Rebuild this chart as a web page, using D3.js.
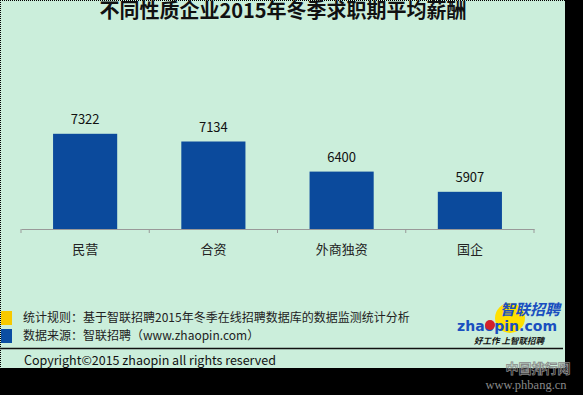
<!DOCTYPE html>
<html>
<head>
<meta charset="utf-8">
<script src="https://cdn.jsdelivr.net/npm/d3@7"></script>
<style>
  body { margin: 0; background: #000; }
  svg { display: block; }
  text { font-family: "Noto Sans CJK SC", "Noto Sans", sans-serif; }
</style>
</head>
<body>
<svg width="583" height="395"></svg>
<script>
// data
var categories = ["民营", "合资", "外商独资", "国企"];
var salaries = [7322, 7134, 6400, 5907];
var legendItems = [
  "统计规则：基于智联招聘2015年冬季在线招聘数据库的数据监测统计分析",
  "数据来源：智联招聘（www.zhaopin.com）"
];
var legendColors = ["#f7c900", "#0b4ea2"];

var svg = d3.select("svg");

// mint panel
svg.append("rect").attr("x", 0).attr("y", 0).attr("width", 565).attr("height", 368)
  .attr("fill", "#cbeedb");
svg.append("line").attr("x1", 0.5).attr("y1", 0).attr("x2", 0.5).attr("y2", 368)
  .attr("stroke", "#000").attr("stroke-dasharray", "1,1");
svg.append("line").attr("x1", 0).attr("y1", 0.5).attr("x2", 565).attr("y2", 0.5)
  .attr("stroke", "#000").attr("stroke-dasharray", "1,1");

// title
svg.append("text").attr("x", 283).attr("y", 18).attr("text-anchor", "middle")
  .attr("font-size", 20).attr("font-weight", "bold").attr("fill", "#111")
  .text("不同性质企业2015年冬季求职期平均薪酬");

var x = d3.scaleBand().domain(categories).range([21, 534])
  .paddingInner(0.5).paddingOuter(0.25);
var y = d3.scaleLinear().domain([5000, 8000]).range([229, 106]);

svg.selectAll(".bar").data(salaries).enter().append("rect")
  .attr("class", "bar")
  .attr("x", function(d, i) { return x(categories[i]); })
  .attr("y", function(d) { return y(d); })
  .attr("width", x.bandwidth())
  .attr("height", function(d) { return y(5000) - y(d); })
  .attr("fill", "#0b4a9c");

svg.selectAll(".val").data(salaries).enter().append("text")
  .attr("class", "val")
  .attr("x", function(d, i) { return x(categories[i]) + x.bandwidth() / 2; })
  .attr("y", function(d) { return y(d) - 10; })
  .attr("text-anchor", "middle").attr("font-size", 13).attr("fill", "#111")
  .text(function(d) { return d; });

// category axis
var axis = svg.append("g").attr("transform", "translate(0,229)")
  .call(d3.axisBottom(x).tickSize(0).tickPadding(16));
axis.select(".domain").attr("stroke", "#999");
axis.selectAll("text").attr("font-size", 13).attr("fill", "#222")
  .style("font-family", "'Noto Sans CJK SC', sans-serif");
var bounds = d3.range(categories.length + 1).map(function(i) { return 21 + i * x.step(); });
axis.selectAll(".bound").data(bounds).enter().append("line")
  .attr("x1", function(d) { return d; }).attr("x2", function(d) { return d; })
  .attr("y1", 0).attr("y2", 4).attr("stroke", "#999");

// legend
var leg = svg.selectAll(".leg").data(legendItems).enter().append("g")
  .attr("transform", function(d, i) { return "translate(0," + (311 + i * 18) + ")"; });
leg.append("rect").attr("x", 1).attr("y", 0).attr("width", 11).attr("height", 14)
  .attr("fill", function(d, i) { return legendColors[i]; });
leg.append("text").attr("x", 23).attr("y", 11).attr("font-size", 12).attr("fill", "#222")
  .text(function(d) { return d; });

svg.append("line").attr("x1", 0).attr("y1", 348.5).attr("x2", 563).attr("y2", 348.5)
  .attr("stroke", "#111").attr("stroke-width", 1.5);
svg.append("text").attr("x", 24).attr("y", 365).attr("font-size", 12.5).attr("fill", "#111")
  .text("Copyright©2015 zhaopin all rights reserved");

// logo
var logo = svg.append("g");
logo.append("circle").attr("cx", 510).attr("cy", 318).attr("r", 15).attr("fill", "#ffe000");
logo.append("text").attr("x", 560).attr("y", 315).attr("text-anchor", "end")
  .attr("font-size", 15).attr("font-weight", "bold").attr("font-style", "italic")
  .attr("fill", "#1a4fc0").text("智联招聘");
logo.append("text").attr("x", 557).attr("y", 331).attr("text-anchor", "end")
  .attr("font-size", 14).attr("font-weight", "bold").attr("fill", "#1a4fc0")
  .style("font-family", "'DejaVu Sans', sans-serif").attr("textLength", 100)
  .text("zhaopin.com");
logo.append("circle").attr("cx", 490).attr("cy", 325).attr("r", 5).attr("fill", "#d4202a");
logo.append("text").attr("x", 509).attr("y", 344).attr("text-anchor", "middle")
  .attr("font-size", 8.5).attr("font-weight", "bold").attr("font-style", "italic")
  .attr("fill", "#111").text("好工作   上智联招聘");

// watermark
svg.append("text").attr("x", 538).attr("y", 373).attr("text-anchor", "middle")
  .attr("font-size", 13).attr("font-weight", "bold").attr("fill", "none")
  .attr("stroke", "#888").attr("stroke-width", 0.8).text("中国排行网");
svg.append("text").attr("x", 526).attr("y", 389).attr("text-anchor", "middle")
  .attr("font-size", 12.5).attr("fill", "#888")
  .style("font-family", "'Liberation Serif', serif").text("www.phbang.cn");
</script>
</body>
</html>
